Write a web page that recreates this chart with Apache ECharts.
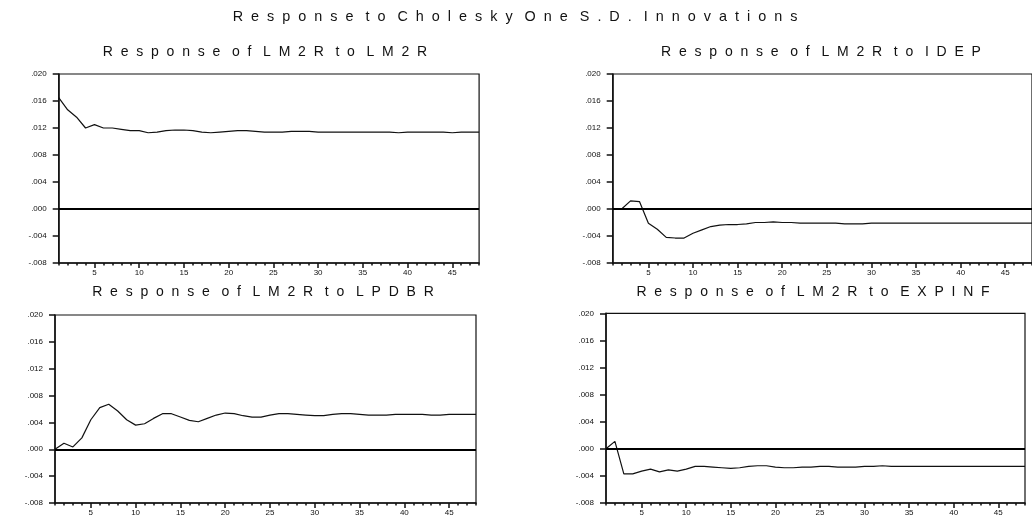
<!DOCTYPE html>
<html><head><meta charset="utf-8">
<script src="https://cdn.jsdelivr.net/npm/echarts@6/dist/echarts.min.js"></script>
<style>html,body{margin:0;padding:0;background:#fff}#c{width:1032px;height:517px}</style>
</head><body><div id="c"></div>
<script>
// ---- data ----
const periods = [1,2,3,4,5,6,7,8,9,10,11,12,13,14,15,16,17,18,19,20,21,22,23,24,25,26,27,28,29,30,31,32,33,34,35,36,37,38,39,40,41,42,43,44,45,46,47,48];
const xLabelTicks = [5,10,15,20,25,30,35,40,45];
const mainTitle = 'Response to Cholesky One S.D. Innovations';
const panelTitles = ['Response of LM2R to LM2R','Response of LM2R to IDEP','Response of LM2R to LPDBR','Response of LM2R to EXPINF'];
const respToLM2R = [0.0165,0.0147,0.0136,0.0120,0.0125,0.0120,0.0120,0.0118,0.0116,0.0116,0.0113,0.0114,0.0116,0.0117,0.0117,0.0116,0.0114,0.0113,0.0114,0.0115,0.0116,0.0116,0.0115,0.0114,0.0114,0.0114,0.0115,0.0115,0.0115,0.0114,0.0114,0.0114,0.0114,0.0114,0.0114,0.0114,0.0114,0.0114,0.0113,0.0114,0.0114,0.0114,0.0114,0.0114,0.0113,0.0114,0.0114,0.0114];
const respToIDEP = [0,0,0.0012,0.0011,-0.0021,-0.0030,-0.0042,-0.0043,-0.0043,-0.0036,-0.0031,-0.0026,-0.0024,-0.0023,-0.0023,-0.0022,-0.0020,-0.0020,-0.0019,-0.0020,-0.0020,-0.0021,-0.0021,-0.0021,-0.0021,-0.0021,-0.0022,-0.0022,-0.0022,-0.0021,-0.0021,-0.0021,-0.0021,-0.0021,-0.0021,-0.0021,-0.0021,-0.0021,-0.0021,-0.0021,-0.0021,-0.0021,-0.0021,-0.0021,-0.0021,-0.0021,-0.0021,-0.0021];
const respToLPDBR = [0,0.0009,0.00035,0.0017,0.0044,0.0062,0.0067,0.0057,0.0044,0.0036,0.0038,0.0046,0.0053,0.0053,0.0048,0.0043,0.0041,0.0046,0.0051,0.0054,0.0053,0.0050,0.0048,0.0048,0.0051,0.0053,0.0053,0.0052,0.0051,0.0050,0.0050,0.0052,0.0053,0.0053,0.0052,0.0051,0.0051,0.0051,0.0052,0.0052,0.0052,0.0052,0.0051,0.0051,0.0052,0.0052,0.0052,0.0052];
const respToEXPINF = [0,0.0011,-0.0037,-0.0037,-0.0033,-0.0030,-0.0034,-0.0031,-0.0033,-0.0030,-0.0026,-0.0026,-0.0027,-0.0028,-0.0029,-0.0028,-0.0026,-0.0025,-0.0025,-0.0027,-0.0028,-0.0028,-0.0027,-0.0027,-0.0026,-0.0026,-0.0027,-0.0027,-0.0027,-0.0026,-0.0026,-0.0025,-0.0026,-0.0026,-0.0026,-0.0026,-0.0026,-0.0026,-0.0026,-0.0026,-0.0026,-0.0026,-0.0026,-0.0026,-0.0026,-0.0026,-0.0026,-0.0026];

// ---- layout ----
const seriesList = [respToLM2R, respToIDEP, respToLPDBR, respToEXPINF];
const grids = [
  {left:58.7, top:74, width:420.4, height:189},
  {left:612.7, top:74, width:420.4, height:189},
  {left:55, top:315, width:421, height:188.3},
  {left:606, top:313.3, width:419, height:190}
];
const titlePos = [[265,52],[821,52],[263,292],[813,292]];
const INK = '#111';
const FONT = '"Liberation Sans", Arial, sans-serif';
function spread(s){ return s.split(' ').map(w => w.split('').join('  ')).join('   '); }
function fmt(v){
  const n = Math.round(Math.abs(v)*1000);
  return (v < -1e-9 ? '-' : '') + '.' + String(n).padStart(3,'0');
}

const option = {
  animation:false,
  backgroundColor:'#fff',
  grid: grids.map(g => Object.assign({show:true, borderColor:INK, borderWidth:1.2, backgroundColor:'transparent'}, g)),
  xAxis: [],
  yAxis: [],
  series: [],
  graphic: []
};
option.graphic.push({type:'text', x:515, y:17, style:{text:spread(mainTitle), textAlign:'center', textVerticalAlign:'middle', font:'14.4px ' + FONT, fill:INK}});
grids.forEach((g,i) => {
  option.xAxis.push({type:'value', gridIndex:i, min:1, max:48, position:'bottom',
    axisLine:{show:true, onZero:false, lineStyle:{color:INK, width:1.5}},
    axisTick:{show:true, customValues:periods, length:2.5, lineStyle:{color:INK, width:1.5}},
    axisLabel:{show:false}, splitLine:{show:false}});
  option.xAxis.push({type:'value', gridIndex:i, min:1, max:48, position:'bottom',
    axisLine:{show:false, onZero:false},
    axisTick:{show:true, customValues:xLabelTicks, length:5, lineStyle:{color:INK, width:1.5}},
    axisLabel:{show:true, customValues:xLabelTicks, fontSize:8, margin:6, color:'#111', fontFamily:FONT},
    splitLine:{show:false}});
  option.yAxis.push({type:'value', gridIndex:i, min:-0.008, max:0.020, interval:0.004,
    axisLine:{show:true, onZero:false, lineStyle:{color:INK, width:1.5}},
    axisTick:{show:true, length:6, lineStyle:{color:INK, width:1.5}},
    axisLabel:{fontSize:8, margin:12, color:'#111', formatter:fmt, fontFamily:FONT},
    splitLine:{show:false}});
  option.series.push({type:'line', xAxisIndex:2*i, yAxisIndex:i, showSymbol:false, symbol:'none',
    data: periods.map((p,k) => [p, seriesList[i][k]]),
    lineStyle:{color:INK, width:1.2},
    markLine:{silent:true, symbol:'none', label:{show:false}, lineStyle:{color:'#000', width:2, type:'solid'}, data:[{yAxis:0}]}
  });
  option.graphic.push({type:'text', x:titlePos[i][0], y:titlePos[i][1], style:{text:spread(panelTitles[i]), textAlign:'center', textVerticalAlign:'middle', font:'14px ' + FONT, fill:INK}});
});
const chart = echarts.init(document.getElementById('c'), null, {renderer:'canvas'});
chart.setOption(option);
</script></body></html>
